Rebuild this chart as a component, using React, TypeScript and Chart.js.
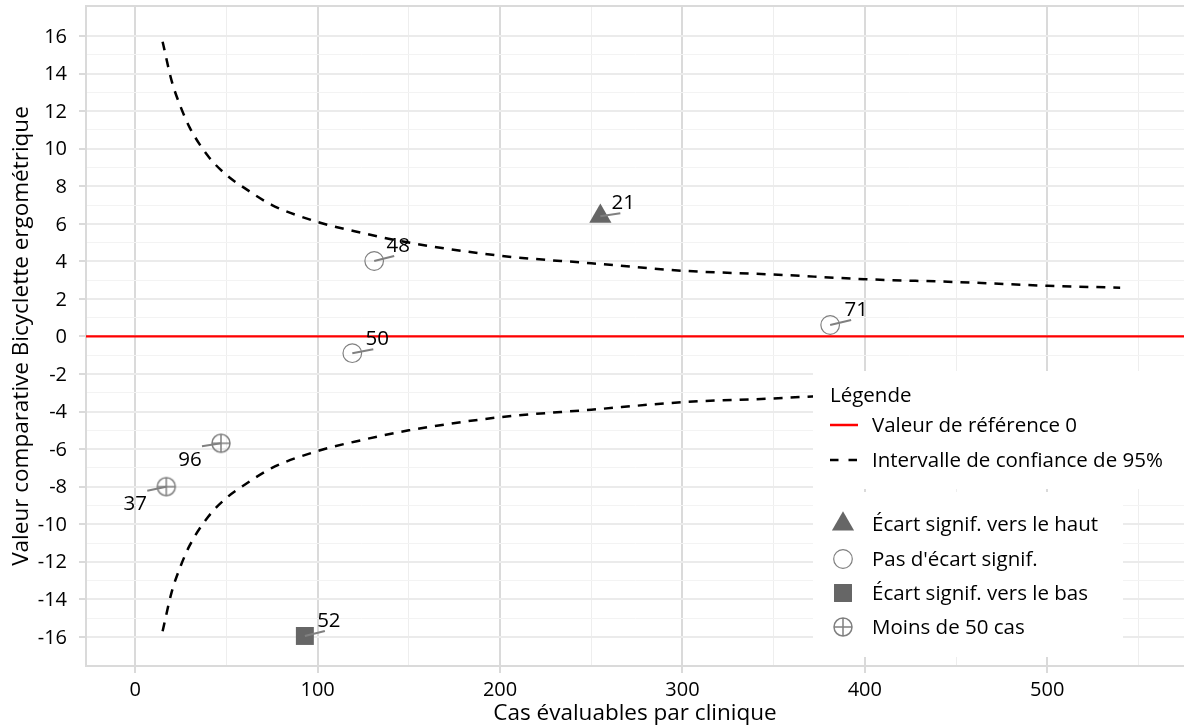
import { useEffect, useRef } from 'react';
import { Chart, registerables } from 'chart.js';
import { drawPoint } from 'chart.js/helpers';

Chart.register(...registerables);

// 95 % confidence band around the reference value, by number of evaluable cases
const CI_CASES = [15, 20, 25, 30, 40, 50, 60, 75, 100, 125, 150, 200, 250, 300, 350, 400, 450, 500, 540];
const CI_UPPER = [15.7, 13.6, 12.2, 11.1, 9.6, 8.6, 7.9, 7.0, 6.1, 5.5, 5.0, 4.3, 3.9, 3.5, 3.3, 3.05, 2.9, 2.7, 2.6];
const CI_LOWER = [-15.7, -13.6, -12.2, -11.1, -9.6, -8.6, -7.9, -7.0, -6.1, -5.5, -5.0, -4.3, -3.9, -3.5, -3.3, -3.05, -2.9, -2.7, -2.6];

const REFERENCE_VALUE = 0;

// Clinics: id, evaluable cases, comparative value, classification
const CLINIC_IDS = ['21', '48', '50', '71', '96', '37', '52'];
const CLINIC_CASES = [255, 131, 119, 381, 47, 17, 93];
const CLINIC_VALUES = [6.4, 4.02, -0.89, 0.61, -5.69, -8.0, -15.95];
const CLINIC_GROUPS = ['up', 'none', 'none', 'none', 'few', 'few', 'down'];

// Axis ticks
const X_MAJOR = [0, 100, 200, 300, 400, 500];
const X_MINOR = [50, 150, 250, 350, 450, 550];
const Y_MAJOR = [-16, -14, -12, -10, -8, -6, -4, -2, 0, 2, 4, 6, 8, 10, 12, 14, 16];
const Y_MINOR = [-15, -13, -11, -9, -7, -5, -3, -1, 1, 3, 5, 7, 9, 11, 13, 15];

const X_LIMITS = [-27, 575];
const Y_LIMITS = [-17.55, 17.6];

const FONT = '"Open Sans", "Noto Sans", sans-serif';
const TEXT = '#000000';
const AXIS_GREY = '#dadada';

// Label placement (px) for each clinic: label centre offset, then leader end offset
const LABEL_OFFSETS: Record<string, number[]> = {
  '21': [23, -14, 20, -3],
  '48': [24, -16, 20, -5],
  '50': [25, -15, 21, -4],
  '71': [26, -16, 21, -5],
  '96': [-31, 16, -19, 3],
  '37': [-31, 16, -19, 4],
  '52': [24, -16, 20, -5],
};

function makeCrosshair(): HTMLCanvasElement {
  const c = document.createElement('canvas');
  c.width = 24;
  c.height = 24;
  const g = c.getContext('2d')!;
  g.strokeStyle = '#808080';
  g.lineWidth = 1.5;
  g.beginPath();
  g.arc(12, 12, 9, 0, Math.PI * 2);
  g.moveTo(3, 12);
  g.lineTo(21, 12);
  g.moveTo(12, 3);
  g.lineTo(12, 21);
  g.stroke();
  return c;
}

export default function App() {
  const ref = useRef<HTMLCanvasElement>(null);

  useEffect(() => {
    const crosshair = makeCrosshair();

    const groups = [
      { key: 'up', label: 'Écart signif. vers le haut', pointStyle: 'triangle' as any, radius: 12.8, fill: '#666666', stroke: '#666666', borderWidth: 0 },
      { key: 'none', label: "Pas d'écart signif.", pointStyle: 'circle' as any, radius: 9.3, fill: 'rgba(0,0,0,0)', stroke: '#808080', borderWidth: 1.2 },
      { key: 'down', label: 'Écart signif. vers le bas', pointStyle: 'rect' as any, radius: 12.7, fill: '#666666', stroke: '#666666', borderWidth: 0 },
      { key: 'few', label: 'Moins de 50 cas', pointStyle: crosshair as any, radius: 12, fill: 'rgba(0,0,0,0)', stroke: '#808080', borderWidth: 0 },
    ];

    const pointSets = groups.map((g) => ({
      label: g.label,
      data: CLINIC_IDS.map((id, i) => ({ x: CLINIC_CASES[i], y: CLINIC_VALUES[i], id, group: CLINIC_GROUPS[i] })).filter((p) => p.group === g.key),
      pointStyle: g.pointStyle,
      pointRadius: g.radius,
      pointBackgroundColor: g.fill,
      pointBorderColor: g.stroke,
      pointBorderWidth: g.borderWidth,
      showLine: false,
      order: 1,
    }));

    const ciLine = (ys: number[]) => ({
      label: 'Intervalle de confiance de 95%',
      data: CI_CASES.map((x, i) => ({ x, y: ys[i] })),
      showLine: true,
      borderColor: '#000000',
      borderWidth: 2.5,
      borderDash: [9, 8],
      pointRadius: 0,
      cubicInterpolationMode: 'monotone' as const,
      order: 2,
    });

    const overlay = {
      id: 'overlay',
      beforeDatasetsDraw(chart: any) {
        const { ctx, chartArea: a, scales } = chart;
        ctx.save();
        ctx.strokeStyle = AXIS_GREY;
        ctx.lineWidth = 2;
        ctx.beginPath();
        ctx.moveTo(a.left, a.top);
        ctx.lineTo(a.right, a.top);
        ctx.stroke();
        const y0 = scales.y.getPixelForValue(REFERENCE_VALUE);
        ctx.strokeStyle = '#ff0000';
        ctx.lineWidth = 2.2;
        ctx.beginPath();
        ctx.moveTo(a.left, y0);
        ctx.lineTo(a.right, y0);
        ctx.stroke();
        ctx.restore();
      },
      afterDatasetsDraw(chart: any) {
        const { ctx, scales, chartArea: a } = chart;
        ctx.save();

        // tick labels
        ctx.fillStyle = TEXT;
        ctx.font = `20px ${FONT}`;
        ctx.textBaseline = 'middle';
        ctx.textAlign = 'right';
        Y_MAJOR.forEach((v) => {
          ctx.fillText(String(v), a.left - 19, scales.y.getPixelForValue(v) + 1);
        });
        ctx.textAlign = 'center';
        X_MAJOR.forEach((v) => {
          ctx.fillText(String(v), scales.x.getPixelForValue(v), a.bottom + 24);
        });

        // clinic labels with leader segments
        ctx.font = `20.5px ${FONT}`;
        CLINIC_IDS.forEach((id, i) => {
          const px = scales.x.getPixelForValue(CLINIC_CASES[i]);
          const py = scales.y.getPixelForValue(CLINIC_VALUES[i]);
          const [lx, ly, ex, ey] = LABEL_OFFSETS[id];
          ctx.strokeStyle = '#808080';
          ctx.lineWidth = 2;
          ctx.beginPath();
          ctx.moveTo(px, py);
          ctx.lineTo(px + ex, py + ey);
          ctx.stroke();
          ctx.fillStyle = TEXT;
          ctx.fillText(id, px + lx, py + ly + 1);
        });

        // legend
        const L = 813;
        ctx.fillStyle = '#ffffff';
        ctx.fillRect(L, 371, 1184 - L, 489 - 371);
        ctx.fillRect(L, 492, 1123 - L, 657 - 492);

        ctx.textAlign = 'left';
        ctx.fillStyle = TEXT;
        ctx.font = `20.5px ${FONT}`;
        ctx.fillText('Légende', 830, 396);

        const symX = 843;
        const textX = 872;
        ctx.lineWidth = 2.5;
        ctx.strokeStyle = '#ff0000';
        ctx.beginPath();
        ctx.moveTo(830, 425);
        ctx.lineTo(858, 425);
        ctx.stroke();
        ctx.fillText('Valeur de référence 0', textX, 426);

        ctx.strokeStyle = '#000000';
        ctx.setLineDash([8.5, 10]);
        ctx.beginPath();
        ctx.moveTo(830, 460);
        ctx.lineTo(858, 460);
        ctx.stroke();
        ctx.setLineDash([]);
        ctx.fillText('Intervalle de confiance de 95%', textX, 461);

        const rows = [524, 559, 593, 627];
        groups.forEach((g, k) => {
          const y = rows[k];
          if (g.pointStyle instanceof HTMLCanvasElement) {
            ctx.drawImage(g.pointStyle, symX - 12, y - 12);
          } else {
            ctx.fillStyle = g.fill;
            ctx.strokeStyle = g.stroke;
            ctx.lineWidth = g.borderWidth;
            drawPoint(ctx, { pointStyle: g.pointStyle, radius: g.radius, rotation: 0, borderWidth: g.borderWidth } as any, symX, y);
          }
          ctx.fillStyle = TEXT;
          ctx.fillText(g.label, textX, y + 1);
        });
        ctx.restore();
      },
    };

    const gridOf = (major: number[], majorColor: string, minorColor: string) => ({
      color: (c: any) => (major.includes(c.tick?.value) ? majorColor : minorColor),
      lineWidth: (c: any) => (major.includes(c.tick?.value) ? 2 : 1),
      drawTicks: true,
      tickLength: 7,
      tickWidth: 2,
      tickColor: (c: any) => (major.includes(c.tick?.value) ? AXIS_GREY : 'rgba(0,0,0,0)'),
    });

    const chart = new Chart(ref.current!, {
      type: 'scatter',
      data: { datasets: [...pointSets, ciLine(CI_UPPER), ciLine(CI_LOWER)] as any },
      plugins: [overlay],
      options: {
        animation: false,
        responsive: false,
        events: [],
        layout: { autoPadding: false, padding: { top: 6, right: 0, bottom: 0, left: 0 } },
        plugins: { legend: { display: false }, tooltip: { enabled: false } },
        scales: {
          x: {
            type: 'linear',
            min: X_LIMITS[0],
            max: X_LIMITS[1],
            afterBuildTicks: (s: any) => {
              s.ticks = [...X_MAJOR, ...X_MINOR].sort((a, b) => a - b).map((v) => ({ value: v }));
            },
            afterFit: (s: any) => {
              s.height = 62;
            },
            grid: gridOf(X_MAJOR, AXIS_GREY, '#eeeeee'),
            border: { display: true, color: AXIS_GREY, width: 2 },
            ticks: { display: false },
            title: {
              display: true,
              text: 'Cas évaluables par clinique',
              color: TEXT,
              font: { family: FONT, size: 22.5 },
              padding: { top: 0, bottom: 1 },
            },
          },
          y: {
            type: 'linear',
            min: Y_LIMITS[0],
            max: Y_LIMITS[1],
            afterBuildTicks: (s: any) => {
              s.ticks = [...Y_MAJOR, ...Y_MINOR].sort((a, b) => a - b).map((v) => ({ value: v }));
            },
            afterFit: (s: any) => {
              s.width = 86;
            },
            grid: gridOf(Y_MAJOR, '#ebebeb', '#f3f3f3'),
            border: { display: true, color: AXIS_GREY, width: 2 },
            ticks: { display: false },
            title: {
              display: true,
              text: 'Valeur comparative Bicyclette ergométrique',
              color: TEXT,
              font: { family: FONT, size: 22.5 },
              padding: { top: 8, bottom: 0 },
            },
          },
        },
      },
    });

    return () => chart.destroy();
  }, []);

  return (
    <div style={{ position: 'absolute', left: 0, top: 0, width: 1184, height: 728, background: '#ffffff' }}>
      <canvas ref={ref} width={1184} height={728} style={{ display: 'block', width: 1184, height: 728 }} />
    </div>
  );
}
